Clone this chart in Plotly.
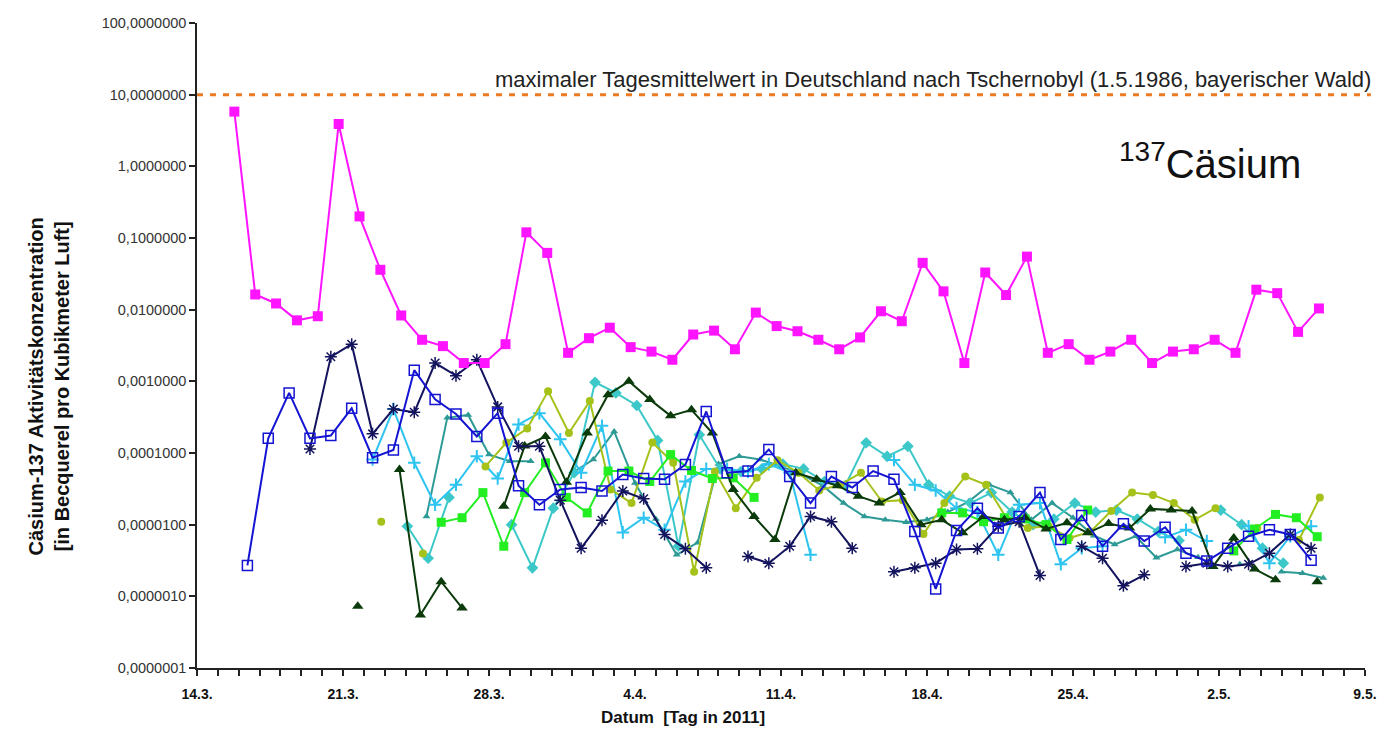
import pandas as pd
import plotly.graph_objects as go

# ---------------- data ----------------
N = None
# magenta filled squares
mag_start = "2011-03-15 19:00"
mag_vals = [5.8, 0.0163, 0.0122, 0.0071, 0.0081, 3.9, 0.20, 0.036, 0.0083, 0.0038,
            0.0031, 0.0018, 0.0018, 0.0033, 0.12, 0.062, 0.0025,
            0.0040, 0.0056, 0.0030, 0.0026, 0.0020, 0.0045, 0.0051, 0.0028, 0.0091, 0.0059,
            0.0050, 0.0038, 0.0028, 0.0041, 0.0095, 0.0069, 0.045, 0.018, 0.0018, 0.033,
            0.016, 0.055, 0.0025, 0.0033, 0.0020, 0.0026, 0.0038, 0.0018, 0.0026, 0.0028,
            0.0038, 0.0025, 0.019, 0.017, 0.0049, 0.0104]
# blue open squares
blu_start = "2011-03-16 10:00"
blu_vals = [2.7e-6, 1.6e-4, 6.9e-4, 1.6e-4, 1.75e-4, 4.2e-4, 8.6e-5, 1.1e-4, 1.43e-3, 5.6e-4,
            3.5e-4, 1.7e-4, 3.6e-4, 3.5e-5, 1.9e-5, 3.1e-5,
            3.3e-5, 2.95e-5, 5.0e-5, 4.4e-5, 4.3e-5, 6.9e-5, 3.8e-4, 5.3e-5, 5.6e-5, 1.12e-4,
            4.7e-5, 2.0e-5, 4.7e-5, 3.3e-5, 5.6e-5, 4.3e-5, 8.0e-6, 1.27e-6, 8.3e-6, 1.7e-5,
            9.0e-6, 1.3e-5, 2.8e-5, 6.2e-6, 1.34e-5, 5.0e-6, 1.03e-5, 5.9e-6, 9.2e-6, 4.0e-6,
            3.1e-6, 4.7e-6, 6.9e-6, 8.5e-6, 7.3e-6, 3.2e-6]
# navy asterisks
nav_start = "2011-03-19 10:00"
nav_vals = [1.14e-4, 2.2e-3, 3.3e-3, 1.85e-4, 4.1e-4, 3.7e-4, 1.8e-3, 1.2e-3, 2.0e-3, 4.4e-4,
            1.24e-4, 1.24e-4, 2.2e-5,
            4.7e-6, 1.15e-5, 2.95e-5, 2.3e-5, 7.3e-6, 4.6e-6, 2.5e-6, N, 3.6e-6, 2.9e-6,
            5.0e-6, 1.3e-5, 1.1e-5, 4.7e-6, N, 2.2e-6, 2.5e-6, 2.9e-6, 4.5e-6, 4.6e-6,
            9.5e-6, 1.1e-5, 1.95e-6, N, 5.0e-6, 3.4e-6, 1.4e-6, 2.0e-6, N, 2.6e-6,
            2.9e-6, 2.6e-6, 2.8e-6, 4.0e-6, 7.3e-6, 4.7e-6]
# light blue plus
lbl_start = "2011-03-22 10:00"
lbl_vals = [8.1e-5, 4.1e-4, 7.3e-5, 1.9e-5, 3.6e-5, 9.0e-5, 4.4e-5, 2.5e-4, 3.6e-4, 1.55e-4,
            5.3e-5, 2.4e-4, 7.8e-6, 1.25e-5, 8.5e-6, 4.0e-5, 6.0e-5, 6.0e-5, 5.5e-5, 7.0e-5,
            5.3e-5, 3.8e-6, N, N, N, 8.0e-5, 3.6e-5, 3.0e-5, 1.7e-5, 1.5e-5, 3.8e-6, 1.9e-5,
            2.0e-5, 2.8e-6, 4.7e-6, 5.0e-6, N, N, 6.7e-6, 8.5e-6, 5.9e-6, N, 9.5e-6, 2.9e-6,
            6.9e-6, 9.5e-6]
# teal small triangles
tea_start = "2011-03-25 00:00"
tea_vals = [1.3e-5, 3.1e-4, 3.4e-4, 9.5e-5, 7.7e-5, 7.7e-5, N,
            5.3e-5, 8.1e-5, 2.0e-4, 3.8e-5, 1.2e-5, 3.8e-6, 5.6e-6, 7.0e-5, 9.0e-5, 8.1e-5,
            6.5e-5, 5.0e-5, 3.5e-5, 2.0e-5, 1.3e-5, 1.17e-5, 1.08e-5, 1.17e-5, 1.5e-5, 2.1e-5,
            3.6e-5, 2.8e-5, 1.17e-5, 2.0e-5, 1.25e-5, 7.0e-6, 5.3e-6, 6.9e-6, 3.45e-6, 4.5e-6,
            3.5e-6, N, 2.8e-6, N, 2.2e-6, 2.1e-6, 1.8e-6]
# dark green triangles
dgr_start = "2011-03-21 17:00"
dgr_vals = [7.3e-7, N, 5.9e-5, 5.5e-7, 1.6e-6, 6.9e-7, N, 1.8e-5, 1.25e-4, 1.7e-4, 3.9e-5,
            1.9e-4, 6.5e-4, 1.0e-3, 5.6e-4, 3.3e-4, 4.0e-4, 1.9e-4, 3.1e-5, 1.3e-5, 6.2e-6,
            5.3e-5, 4.3e-5, 3.5e-5, 2.5e-5, 2.0e-5, 2.8e-5, 1.0e-5, 1.17e-5, 7.7e-6, 1.3e-5,
            1.17e-5, 1.25e-5, 8.7e-6, 1.06e-5, 7.7e-6, 1.04e-5, 9.0e-6, 1.66e-5, 1.6e-5,
            1.55e-5, 2.6e-6, 6.5e-6, 2.4e-6, 1.7e-6, N, 1.6e-6]
# yellow-green circles
ygr_start = "2011-03-22 20:00"
ygr_vals = [1.1e-5, N, 3.95e-6, N, N, 6.5e-5, 1.4e-4, 2.2e-4, 7.3e-4, 1.9e-4,
            5.3e-4, 3.1e-5, 2.0e-5, 1.4e-4, 7.3e-5, 2.2e-6, 5.5e-5, 1.7e-5, 4.5e-5, 7.9e-5,
            5.3e-5, 3.0e-5, 3.6e-5, 5.3e-5, 2.1e-5, 2.2e-5, 7.4e-6, 2.0e-5, 4.7e-5, 3.6e-5,
            1.2e-5, 9.0e-6, 9.5e-6, 6.5e-6, 8.0e-6, 1.55e-5, 2.8e-5, 2.6e-5, 2.0e-5, 1.17e-5,
            1.7e-5, N, 9.0e-6, N, 6.1e-6, 2.4e-5]
# bright green squares
bgr_start = "2011-03-25 17:00"
bgr_vals = [1.08e-5, 1.25e-5, 2.8e-5, 5.0e-6, 2.8e-5, 7.3e-5, 2.4e-5,
            1.46e-5, 5.6e-5, 5.6e-5, 4.0e-5, 9.5e-5, 5.7e-5, 4.4e-5, 4.5e-5, 2.4e-5,
            N, N, N, N, N, N, N, N, 1.46e-5, 1.46e-5, 1.1e-5, 1.25e-5, 1.2e-5, 1.0e-5,
            6.2e-6, 1.6e-5, N, N, N, N, N, N, 4.3e-6, 8.7e-6, 1.39e-5, 1.25e-5, 6.8e-6]
# turquoise diamonds
tur_start = "2011-03-24 02:00"
tur_vals = [9.5e-6, 3.4e-6, 2.4e-5, N, N, 1.0e-5, 2.5e-6, 1.7e-5,
            5.3e-5, 9.7e-4, 6.9e-4, 4.6e-4, 1.5e-4, 5.0e-6, 1.8e-4, 6.0e-5, 5.5e-5, 6.0e-5,
            7.0e-5, 6.0e-5, 4.0e-5, 3.5e-5, 1.39e-4, 9.0e-5, 1.24e-4, 3.6e-5, 2.5e-5, 2.0e-5,
            2.8e-5, 1.5e-5, 1.0e-5, 1.2e-5, 2.0e-5, 1.5e-5, 1.6e-5, 1.2e-5, 8.0e-6, 6.0e-6,
            N, 1.6e-5, 1.0e-5, 4.7e-6, 2.9e-6]

ref_value = 10.0
ref_text = "maximaler Tagesmittelwert in Deutschland nach Tschernobyl (1.5.1986, bayerischer Wald)"
y_tickvals = [1e-7, 1e-6, 1e-5, 1e-4, 1e-3, 1e-2, 1e-1, 1, 10, 100]
y_ticktext = ["0,0000001", "0,0000010", "0,0000100", "0,0001000", "0,0010000",
              "0,0100000", "0,1000000", "1,0000000", "10,0000000", "100,0000000"]
x_ticks = ["2011-03-14", "2011-03-21", "2011-03-28", "2011-04-04", "2011-04-11",
           "2011-04-18", "2011-04-25", "2011-05-02", "2011-05-09"]
x_ticktext = ["14.3.", "21.3.", "28.3.", "4.4.", "11.4.", "18.4.", "25.4.", "2.5.", "9.5."]
y_title = "Cäsium-137 Aktivitätskonzentration<br>[in Becquerel pro Kubikmeter Luft]"
x_title = "Datum  [Tag in 2011]"


def xs(start, vals):
    return pd.date_range(start=start, periods=len(vals), freq="D")


FONT = "Liberation Sans, Arial, sans-serif"
fig = go.Figure()

series = [
    (tea_start, tea_vals, "#2E9A96", "triangle-up", 7, None),
    (tur_start, tur_vals, "#3CC8C8", "diamond", 9, None),
    (lbl_start, lbl_vals, "#2EC4F0", "cross-thin-open", 9, 2),
    (ygr_start, ygr_vals, "#A5C21A", "circle", 8, None),
    (bgr_start, bgr_vals, "#22EE22", "square", 9, None),
    (dgr_start, dgr_vals, "#0B3A0B", "triangle-up", 10, None),
    (nav_start, nav_vals, "#14145E", "asterisk-open", 10, 1.5),
    (blu_start, blu_vals, "#1414D2", "square-open", 10, 1.5),
    (mag_start, mag_vals, "#FF14FF", "square", 10, None),
]
for start, vals, col, sym, size, mlw in series:
    marker = dict(symbol=sym, size=size, color=col)
    if mlw:
        marker["line"] = dict(width=mlw, color=col)
    fig.add_trace(go.Scatter(x=xs(start, vals), y=vals, mode="lines+markers",
                             line=dict(color=col, width=2), marker=marker,
                             connectgaps=False, showlegend=False, hoverinfo="skip"))

# reference dashed line (Tschernobyl maximum)
fig.add_shape(type="line", xref="paper", x0=0, x1=1.005, yref="y", y0=ref_value, y1=ref_value,
              line=dict(color="#EC7A22", width=3, dash="6px,7px"))
fig.add_annotation(xref="paper", x=1.007, yref="y", y=1.0, yanchor="bottom", xanchor="right",
                   text=ref_text, showarrow=False, yshift=1,
                   font=dict(family=FONT, size=22, color="#222"))
fig.add_annotation(xref="paper", x=0.947, yref="paper", y=0.786, xanchor="right", yanchor="middle",
                   text="<sup>137</sup>Cäsium", showarrow=False,
                   font=dict(family=FONT, size=40, color="#111"))
# axis titles placed like in the original
fig.add_annotation(xref="paper", x=-0.127, yref="paper", y=0.436, xanchor="center", yanchor="middle",
                   text="<b>%s</b>" % y_title, textangle=-90, showarrow=False,
                   font=dict(family=FONT, size=20, color="#111"))
fig.add_annotation(xref="paper", x=0.4157, yref="paper", y=-0.0775, xanchor="center", yanchor="middle",
                   text="<b>%s</b>" % x_title, showarrow=False,
                   font=dict(family=FONT, size=17, color="#111"))

fig.update_layout(
    width=1389, height=755,
    margin=dict(l=197, r=18, t=23, b=87),
    paper_bgcolor="white", plot_bgcolor="white",
    font=dict(family=FONT, color="#111"),
)
fig.update_xaxes(
    type="date", range=["2011-03-14", "2011-05-09"],
    tickvals=x_ticks, ticktext=["<b>%s</b>" % t for t in x_ticktext],
    ticks="outside", ticklen=6, tickwidth=1.5, tickcolor="#222",
    minor=dict(dtick=86400000, ticks="outside", ticklen=6, tickwidth=1.5, tickcolor="#222"),
    showline=True, linecolor="#222", linewidth=1.5, showgrid=False, zeroline=False,
    tickfont=dict(size=14, family=FONT, color="#111"), ticklabelstandoff=6,
)
fig.update_yaxes(
    type="log", range=[-7, 2],
    tickvals=y_tickvals, ticktext=y_ticktext,
    ticks="outside", ticklen=6, tickwidth=1.5, tickcolor="#222",
    showline=True, linecolor="#222", linewidth=1.5, showgrid=False, zeroline=False,
    tickfont=dict(size=14.5, family=FONT, color="#333"),
)

fig.write_html("out.html")
